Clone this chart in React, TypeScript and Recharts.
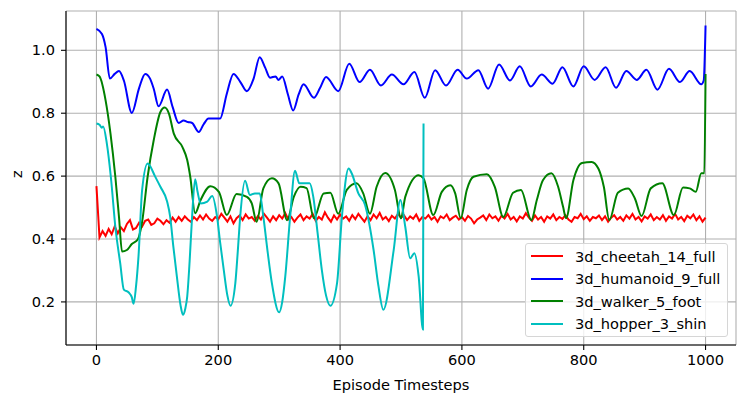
import React from 'react';
import { LineChart, Line, XAxis, YAxis, CartesianGrid } from 'recharts';

const xTicks = [0, 200, 400, 600, 800, 1000];
const yTicks = [0.2, 0.4, 0.6, 0.8, 1.0];

// cheetah is logged every 5 timesteps
const cheetahStep = 5;
const cheetahZ = [
  0.568, 0.405, 0.425, 0.41, 0.432, 0.415, 0.44, 0.418, 0.437, 0.425,
  0.448, 0.46, 0.43, 0.435, 0.452, 0.44, 0.458, 0.462, 0.445, 0.45,
  0.465, 0.458, 0.447, 0.46, 0.452, 0.468, 0.455, 0.47, 0.458, 0.472,
  0.462, 0.455, 0.47, 0.46, 0.475, 0.462, 0.478, 0.465, 0.458, 0.47,
  0.463, 0.48, 0.468, 0.455, 0.472, 0.45, 0.466, 0.475, 0.46, 0.478,
  0.465, 0.47, 0.458, 0.473, 0.462, 0.48, 0.468, 0.455, 0.472, 0.46,
  0.476, 0.465, 0.482, 0.462, 0.47, 0.455, 0.468, 0.478, 0.46, 0.472,
  0.465, 0.48, 0.458, 0.47, 0.462, 0.485, 0.468, 0.455, 0.475, 0.462,
  0.478, 0.465, 0.472, 0.458, 0.476, 0.463, 0.48, 0.467, 0.455, 0.472,
  0.46, 0.478, 0.466, 0.483, 0.462, 0.47, 0.457, 0.474, 0.465, 0.48,
  0.468, 0.475, 0.46, 0.472, 0.464, 0.478, 0.458, 0.47, 0.465, 0.476,
  0.462, 0.47, 0.455, 0.472, 0.466, 0.478, 0.46, 0.468, 0.474, 0.462,
  0.47, 0.458, 0.473, 0.465, 0.45, 0.462, 0.468, 0.475, 0.46, 0.478,
  0.466, 0.472, 0.458, 0.474, 0.465, 0.48, 0.462, 0.47, 0.456, 0.472,
  0.465, 0.482, 0.468, 0.458, 0.475, 0.462, 0.47, 0.455, 0.472, 0.465,
  0.478, 0.46, 0.47, 0.464, 0.476, 0.462, 0.455, 0.47, 0.466, 0.48,
  0.463, 0.472, 0.458, 0.47, 0.466, 0.475, 0.46, 0.472, 0.455, 0.468,
  0.476, 0.462, 0.47, 0.458, 0.475, 0.465, 0.48, 0.462, 0.47, 0.456,
  0.472, 0.465, 0.478, 0.46, 0.47, 0.462, 0.476, 0.458, 0.472, 0.465,
  0.48, 0.462, 0.47, 0.457, 0.474, 0.466, 0.478, 0.46, 0.472, 0.455,
  0.468,
];

const humanoidSteps = [
  0, 9, 15, 22, 30, 37, 45, 58, 70, 80, 88, 94, 102, 116, 125, 135, 143, 150, 157, 168,
  176, 184, 203, 214, 225, 236, 247, 258, 268, 277, 285, 294, 299, 305, 314, 323, 332, 340, 357, 367,
  377, 397, 415, 432, 449, 467, 485, 504, 522, 539, 556, 574, 593, 608, 627, 643, 661, 679, 695, 713,
  731, 749, 765, 783, 800, 818, 836, 853, 870, 887, 903, 921, 940, 958, 974, 993, 997, 1000,
];
const humanoidZ = [
  1.068, 1.052, 1.01, 0.91, 0.925, 0.934, 0.904, 0.801, 0.88, 0.925, 0.91, 0.878, 0.822, 0.875, 0.82, 0.769, 0.777, 0.772, 0.769, 0.74,
  0.765, 0.783, 0.783, 0.862, 0.925, 0.9, 0.87, 0.91, 0.978, 0.945, 0.913, 0.917, 0.906, 0.917, 0.862, 0.809, 0.86, 0.892, 0.849, 0.88,
  0.915, 0.87, 0.957, 0.899, 0.938, 0.888, 0.923, 0.892, 0.931, 0.849, 0.937, 0.888, 0.938, 0.91, 0.937, 0.878, 0.955, 0.904, 0.949, 0.885,
  0.923, 0.894, 0.946, 0.885, 0.949, 0.906, 0.946, 0.881, 0.934, 0.906, 0.938, 0.875, 0.941, 0.899, 0.934, 0.892, 0.904, 1.079,
];

const walkerSteps = [
  0, 5, 15, 23, 31, 37, 42, 50, 58, 68, 75, 84, 94, 105, 112, 119, 127, 141, 149, 154,
  162, 171, 187, 201, 214, 230, 247, 255, 263, 274, 288, 299, 313, 324, 335, 345, 357, 373, 384, 397,
  411, 427, 438, 449, 460, 474, 490, 500, 507, 529, 537, 553, 567, 581, 589, 598, 608, 619, 641, 654,
  668, 684, 697, 714, 723, 733, 747, 758, 766, 771, 783, 797, 813, 824, 833, 842, 856, 873, 884, 895,
  910, 929, 948, 963, 974, 984, 993, 998, 1000,
];
const walkerZ = [
  0.923, 0.917, 0.841, 0.736, 0.598, 0.47, 0.36, 0.365, 0.384, 0.399, 0.455, 0.598, 0.714, 0.804, 0.818, 0.799, 0.735, 0.693, 0.651, 0.598,
  0.482, 0.524, 0.568, 0.55, 0.476, 0.543, 0.534, 0.513, 0.455, 0.561, 0.593, 0.577, 0.46, 0.534, 0.566, 0.562, 0.466, 0.545, 0.547, 0.48,
  0.556, 0.577, 0.545, 0.48, 0.566, 0.61, 0.556, 0.466, 0.534, 0.603, 0.593, 0.476, 0.55, 0.571, 0.545, 0.466, 0.556, 0.598, 0.606, 0.566,
  0.47, 0.547, 0.556, 0.46, 0.524, 0.587, 0.609, 0.566, 0.503, 0.466, 0.587, 0.642, 0.645, 0.624, 0.566, 0.46, 0.547, 0.561, 0.529, 0.473,
  0.561, 0.577, 0.476, 0.564, 0.561, 0.55, 0.609, 0.609, 0.925,
];

const hopperSteps = [
  0, 5, 9, 11, 17, 24, 31, 39, 45, 53, 58, 61, 65, 69, 75, 84, 87, 96, 105, 116,
  121, 126, 132, 138, 142, 146, 149, 153, 157, 162, 166, 171, 182, 190, 198, 203, 209, 215, 220, 228,
  232, 236, 244, 252, 260, 268, 274, 281, 288, 300, 305, 310, 318, 326, 333, 350, 356, 363, 370, 377,
  384, 395, 403, 414, 419, 430, 441, 455, 463, 471, 488, 499, 507, 515, 522, 529, 536, 537,
];
const hopperZ = [
  0.767, 0.763, 0.754, 0.758, 0.704, 0.59, 0.439, 0.323, 0.239, 0.23, 0.215, 0.194, 0.25, 0.344, 0.556, 0.64, 0.635, 0.6, 0.566, 0.519,
  0.471, 0.38, 0.281, 0.19, 0.159, 0.18, 0.217, 0.33, 0.471, 0.59, 0.55, 0.513, 0.519, 0.537, 0.471, 0.39, 0.302, 0.22, 0.188, 0.26,
  0.36, 0.471, 0.585, 0.54, 0.545, 0.545, 0.471, 0.36, 0.26, 0.167, 0.2, 0.281, 0.471, 0.617, 0.577, 0.577, 0.534, 0.42, 0.302, 0.22,
  0.188, 0.26, 0.471, 0.624, 0.609, 0.545, 0.508, 0.365, 0.25, 0.175, 0.365, 0.524, 0.439, 0.339, 0.355, 0.281, 0.112, 0.767,
];

const toRows = (steps: number[], z: number[]) => steps.map((x, i) => ({ x, z: z[i] }));

const cheetahData = cheetahZ.map((z, i) => ({ x: i * cheetahStep, z }));
const humanoidData = toRows(humanoidSteps, humanoidZ);
const walkerData = toRows(walkerSteps, walkerZ);
const hopperData = toRows(hopperSteps, hopperZ);

const series = [
  { name: '3d_cheetah_14_full', color: '#ff0000', data: cheetahData, curve: 'linear' },
  { name: '3d_humanoid_9_full', color: '#0000ff', data: humanoidData, curve: 'monotone' },
  { name: '3d_walker_5_foot', color: '#008000', data: walkerData, curve: 'monotone' },
  { name: '3d_hopper_3_shin', color: '#00bfbf', data: hopperData, curve: 'monotone' },
];

const FONT = 'DejaVu Sans, sans-serif';
const FONT_SIZE = 14.6;
const tickStyle = { fill: '#000', fontSize: FONT_SIZE, fontFamily: FONT };
const axisLine = { stroke: '#000', strokeWidth: 1.1 };

const LegendBox = () => (
  <div
    style={{
      position: 'absolute',
      left: 525,
      top: 243,
      width: 203,
      height: 94,
      boxSizing: 'border-box',
      border: '1px solid #d6d6d6',
      borderRadius: 3,
      background: 'rgba(255,255,255,0.8)',
      paddingTop: 1,
      fontFamily: FONT,
      fontSize: FONT_SIZE,
      color: '#000',
    }}
  >
    {series.map(s => (
      <div key={s.name} style={{ display: 'flex', alignItems: 'center', height: 22.5 }}>
        <span style={{ display: 'inline-block', width: 32, height: 2, background: s.color, marginLeft: 5, marginRight: 12 }} />
        <span style={{ whiteSpace: 'nowrap' }}>{s.name}</span>
      </div>
    ))}
  </div>
);

export default function App() {
  return (
    <div style={{ position: 'absolute', left: 0, top: 0, width: 747, height: 402, background: '#fff' }}>
      <LineChart width={747} height={402} margin={{ top: 11, right: 11, left: 0, bottom: 0 }}>
        <CartesianGrid stroke="#b0b0b0" strokeWidth={1.1} />
        <XAxis
          type="number"
          dataKey="x"
          domain={[-50, 1050]}
          ticks={xTicks}
          allowDataOverflow
          height={57}
          tick={tickStyle}
          tickLine={axisLine}
          axisLine={axisLine}
          tickSize={5}
          tickMargin={5}
          label={{ value: 'Episode Timesteps', position: 'insideBottom', offset: 12, style: { fill: '#000', fontSize: FONT_SIZE, fontFamily: FONT } }}
        />
        <XAxis xAxisId="top" orientation="top" type="number" domain={[-50, 1050]} height={0} tick={false} tickLine={false} axisLine={axisLine} />
        <YAxis
          type="number"
          domain={[0.063, 1.125]}
          ticks={yTicks}
          allowDataOverflow
          width={66}
          tick={tickStyle}
          tickLine={axisLine}
          axisLine={axisLine}
          tickSize={5}
          tickMargin={6}
          tickFormatter={(v: number) => v.toFixed(1)}
          label={{ value: 'z', angle: -90, position: 'insideLeft', offset: 17, style: { fill: '#000', fontSize: FONT_SIZE, fontFamily: FONT } }}
        />
        <YAxis yAxisId="right" orientation="right" type="number" domain={[0.063, 1.125]} width={0} tick={false} tickLine={false} axisLine={axisLine} />
        {series.map(s => (
          <Line
            key={s.name}
            data={s.data}
            dataKey="z"
            name={s.name}
            type={s.curve as any}
            stroke={s.color}
            strokeWidth={2}
            dot={false}
            activeDot={false}
            isAnimationActive={false}
          />
        ))}
      </LineChart>
      <LegendBox />
    </div>
  );
}
